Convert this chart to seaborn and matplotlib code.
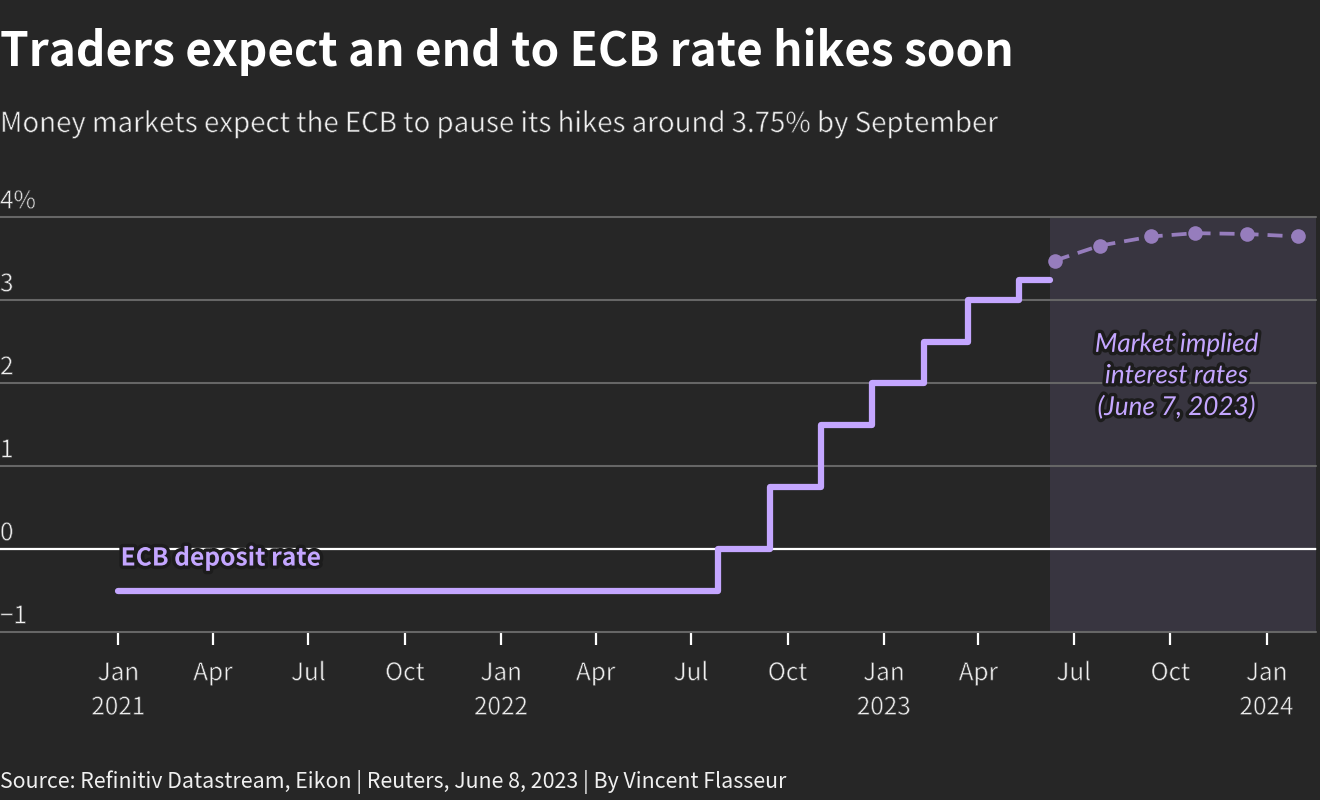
import pandas as pd
import matplotlib
matplotlib.use("Agg")
import matplotlib.pyplot as plt
import matplotlib.patheffects as pe
from matplotlib.transforms import ScaledTranslation
import seaborn as sns

# ECB deposit rate, step dates
rate_dates = ["2021-01-01", "2022-07-27", "2022-09-14", "2022-11-02", "2022-12-21",
              "2023-02-08", "2023-03-22", "2023-05-10", "2023-06-08"]
rate_values = [-0.5, 0, 0.75, 1.5, 2, 2.5, 3, 3.25, 3.25]

# market implied rates
market_dates = ["2023-06-13", "2023-07-26", "2023-09-13", "2023-10-25", "2023-12-13", "2024-01-31"]
market_values = [3.48, 3.66, 3.77, 3.81, 3.80, 3.77]

y_ticks = [-1, 0, 1, 2, 3, 4]
y_labels = ["\u22121", "0", "1", "2", "3", "4%"]
x_ticks = ["2021-01-01", "2021-04-01", "2021-07-01", "2021-10-01", "2022-01-01", "2022-04-01", "2022-07-01",
           "2022-10-01", "2023-01-01", "2023-04-01", "2023-07-01", "2023-10-01", "2024-01-01"]
x_labels = ["Jan\n2021", "Apr", "Jul", "Oct", "Jan\n2022", "Apr", "Jul",
            "Oct", "Jan\n2023", "Apr", "Jul", "Oct", "Jan\n2024"]

bg = "#262626"
purple = "#c4a6ff"
purple2 = "#967dbd"
txt = "#f0f0f0"

sns.set_theme(style="dark")
plt.rcParams["font.family"] = ["Noto Sans CJK SC", "DejaVu Sans"]

rates = pd.DataFrame({"date": pd.to_datetime(rate_dates), "rate": rate_values})
market = pd.DataFrame({"date": pd.to_datetime(market_dates), "rate": market_values})

# no light cut of this font here, so thin the regular one with a background stroke on top
thin = [pe.Normal(), pe.Stroke(linewidth=0.45, foreground=bg)]

fig = plt.figure(figsize=(13.2, 8), dpi=100, facecolor=bg)
ax = fig.add_axes([0, 1 - 632.4 / 800, 1316 / 1320, 415 / 800], facecolor=bg)

ax.set_xlim(pd.Timestamp("2020-09-10"), pd.Timestamp("2024-02-17"))
ax.set_ylim(-1, 4)

ax.axvspan(pd.Timestamp("2023-06-08"), pd.Timestamp("2024-02-17"), color="#383540", lw=0, zorder=0)

ax.set_yticks(y_ticks)
ax.set_yticklabels(y_labels, ha="left", va="bottom", color=txt, fontsize=17.5, path_effects=thin)
ax.tick_params(axis="y", length=0, pad=0)
up = ScaledTranslation(0, 2.2 / 72, fig.dpi_scale_trans)
for lab in ax.get_yticklabels():
    lab.set_transform(lab.get_transform() + up)
ax.grid(axis="y", color="#666666", lw=1.5, zorder=1, clip_on=False)
ax.grid(axis="x", visible=False)
ax.axhline(0, color="white", lw=1.6, zorder=2)

sns.lineplot(data=rates, x="date", y="rate", drawstyle="steps-post", color=purple, lw=4.5,
             ax=ax, zorder=3, solid_capstyle="round", solid_joinstyle="round")
sns.lineplot(data=market, x="date", y="rate", color=purple2, lw=2.7, ax=ax, zorder=3,
             marker="o", markersize=10.5, markeredgewidth=0, linestyle=(0, (4, 2.4)))

ax.set_xticks(pd.to_datetime(x_ticks))
ax.set_xticklabels(x_labels, color=txt, fontsize=17.5, linespacing=1.42, path_effects=thin)
ax.tick_params(axis="x", length=9, width=1.6, color="white", pad=11, bottom=True)
ax.set_xlabel("")
ax.set_ylabel("")
sns.despine(ax=ax, left=True, bottom=True)

halo = [pe.withStroke(linewidth=5, foreground="#1c1c1c")]
ax.text(pd.Timestamp("2021-01-03"), -0.11, "ECB deposit rate", color=purple, fontsize=17.7, fontweight="bold",
        ha="left", va="center", path_effects=halo, zorder=5)
ax.text(pd.Timestamp("2023-10-07"), 2.09, "Market implied\ninterest rates\n(June 7, 2023)", color=purple,
        fontsize=18.8, style="italic", family=["Lato", "DejaVu Sans"], ha="center", va="center", linespacing=1.44,
        path_effects=halo, zorder=5)

fig.text(0, 1 - 52 / 800, "Traders expect an end to ECB rate hikes soon", color="white", fontsize=33.1,
         fontweight="bold", ha="left", va="center")
fig.text(0, 1 - 124 / 800, "Money markets expect the ECB to pause its hikes around 3.75% by September",
         color=txt, fontsize=19.9, ha="left", va="center", path_effects=thin)
fig.text(0, 1 - 782 / 800, "Source: Refinitiv Datastream, Eikon | Reuters, June 8, 2023 | By Vincent Flasseur",
         color=txt, fontsize=15.35, ha="left", va="center")

fig.savefig("out.png", dpi=100, facecolor=bg)
